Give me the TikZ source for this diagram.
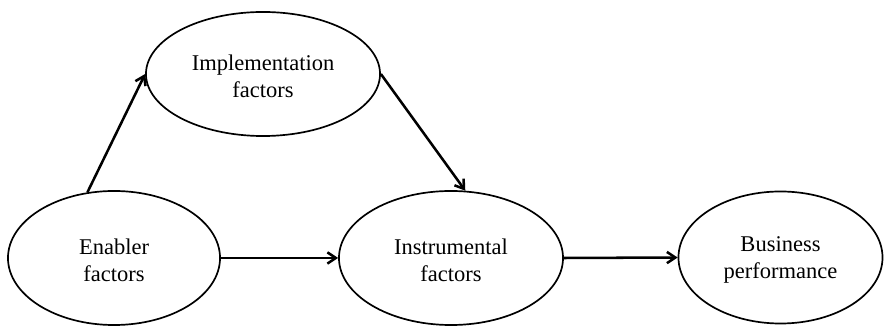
\documentclass[tikz,border=0pt]{standalone}
\usepackage{fontspec}
\setmainfont{Liberation Serif}
\usetikzlibrary{shapes,arrows.meta}

\begin{document}
\begin{tikzpicture}[x=0.025cm,y=-0.025cm,
  factor/.style={ellipse,draw,line width=1.2pt,inner sep=0pt,align=center,
    font=\fontsize{16}{19.5}\selectfont},
  link/.style={-{Straight Barb[length=6pt,width=8pt]},line width=1.8pt}]
\useasboundingbox (0,0) rectangle (884,326);
\node[factor,minimum width=5.85cm,minimum height=3.1cm] (impl) at (263,74) {\rule{0pt}{14pt}Implementation\\factors};
\node[factor,minimum width=5.3cm,minimum height=3.35cm] (enab) at (114,258) {\rule{0pt}{14pt}Enabler\\factors};
\node[factor,minimum width=5.6cm,minimum height=3.35cm] (instr) at (451,258) {\rule{0pt}{14pt}Instrumental\\factors};
\node[factor,minimum width=5.1cm,minimum height=3.3cm] (bus) at (780.5,257.5) {\rule{0pt}{14pt}Business\\performance};
\draw[link] (enab.112) -- (impl.west);
\draw[link] (impl.east) -- (instr.78);
\draw[link] (enab.east) -- (instr.west);
\draw[link] (instr.east) -- (bus.west);
\end{tikzpicture}
\end{document}
